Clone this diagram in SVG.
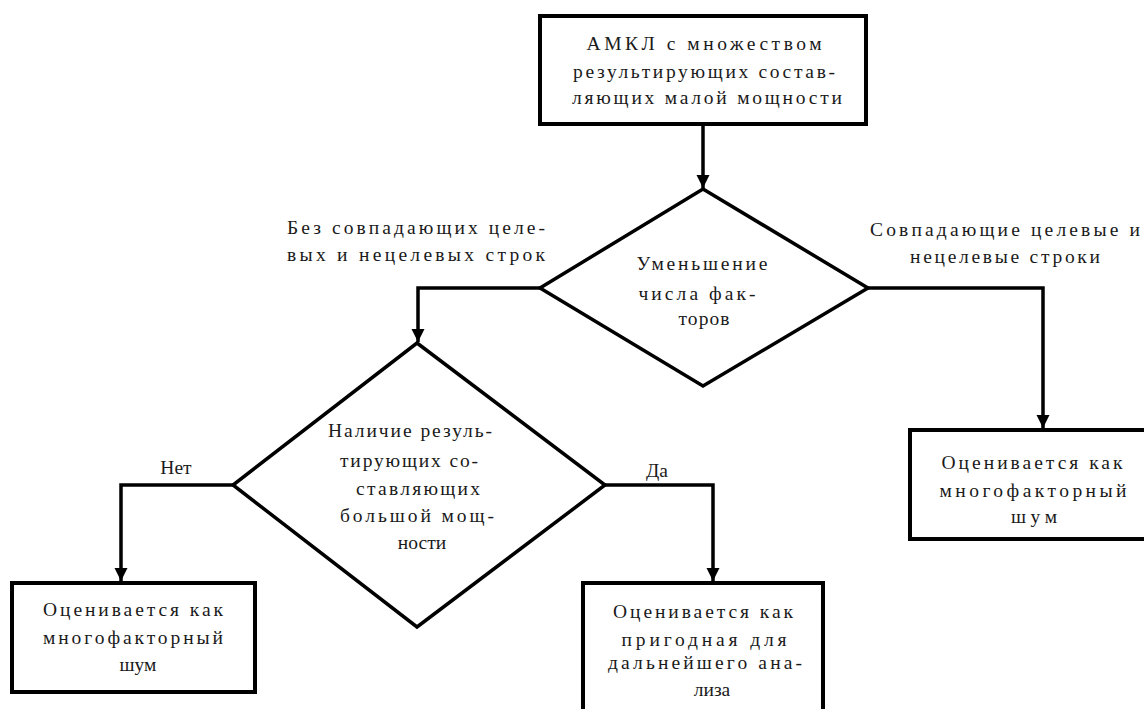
<svg xmlns="http://www.w3.org/2000/svg" width="1144" height="709" viewBox="0 0 1144 709">
<defs>
<style>
.box{fill:#fff;stroke:#000;stroke-width:4}
.dia{fill:#fff;stroke:#000;stroke-width:3.5}
.con{fill:none;stroke:#000;stroke-width:3.5}
.t{font-family:"Liberation Serif","DejaVu Serif",serif;font-size:19.5px;fill:#1a1a1a;text-anchor:middle}
</style>
<marker id="arr" markerUnits="userSpaceOnUse" markerWidth="14" markerHeight="14" viewBox="0 0 14 14" refX="13" refY="7" orient="auto">
<path d="M0,0.5 L13,7 L0,13.5 Z" fill="#000"/>
</marker>
</defs>
<rect width="1144" height="709" fill="#fff"/>
<g id="connectors">
<path class="con" d="M703,125 V188" marker-end="url(#arr)"/>
<path class="con" d="M540,288 H418 V342" marker-end="url(#arr)"/>
<path class="con" d="M868,288 H1043 V428" marker-end="url(#arr)"/>
<path class="con" d="M233,485 H121 V581" marker-end="url(#arr)"/>
<path class="con" d="M605,485 H713 V581" marker-end="url(#arr)"/>
</g>
<g id="n-top">
<rect class="box" x="540" y="16" width="326" height="108"/>
<text class="t" x="704" y="50" textLength="235" lengthAdjust="spacing">АМКЛ с множеством</text>
<text class="t" x="704" y="78" textLength="262" lengthAdjust="spacing">результирующих состав-</text>
<text class="t" x="707" y="104" textLength="270" lengthAdjust="spacing">ляющих малой мощности</text>
</g>
<g id="n-d1">
<polygon class="dia" points="703,189 868,288 703,386 540,288"/>
<text class="t" x="702" y="270" textLength="131" lengthAdjust="spacing">Уменьшение</text>
<text class="t" x="697" y="300" textLength="117" lengthAdjust="spacing">числа фак-</text>
<text class="t" x="704" y="325" textLength="51" lengthAdjust="spacing">торов</text>
</g>
<g id="lbl-left">
<text class="t" x="416" y="234" textLength="258" lengthAdjust="spacing">Без совпадающих целе-</text>
<text class="t" x="416" y="261" textLength="258" lengthAdjust="spacing">вых и нецелевых строк</text>
</g>
<g id="lbl-right">
<text class="t" x="1005" y="236" textLength="270" lengthAdjust="spacing">Совпадающие целевые и</text>
<text class="t" x="1005" y="263" textLength="190" lengthAdjust="spacing">нецелевые строки</text>
</g>
<g id="n-right">
<rect class="box" x="910" y="430" width="250" height="109"/>
<text class="t" x="1032" y="469" textLength="181" lengthAdjust="spacing">Оценивается как</text>
<text class="t" x="1033" y="497" textLength="187" lengthAdjust="spacing">многофакторный</text>
<text class="t" x="1034" y="523" textLength="46" lengthAdjust="spacing">шум</text>
</g>
<g id="n-d2">
<polygon class="dia" points="417,343 605,485 417,627 233,485"/>
<text class="t" x="410" y="437" textLength="164" lengthAdjust="spacing">Наличие резуль-</text>
<text class="t" x="409" y="467" textLength="138" lengthAdjust="spacing">тирующих со-</text>
<text class="t" x="418" y="495" textLength="124" lengthAdjust="spacing">ставляющих</text>
<text class="t" x="417" y="522" textLength="154" lengthAdjust="spacing">большой мощ-</text>
<text class="t" x="422" y="549">ности</text>
</g>
<g id="lbl-no">
<text class="t" x="176" y="474">Нет</text>
</g>
<g id="lbl-yes">
<text class="t" x="657" y="477">Да</text>
</g>
<g id="n-left">
<rect class="box" x="12" y="583" width="243" height="109"/>
<text class="t" x="133" y="616" textLength="180" lengthAdjust="spacing">Оценивается как</text>
<text class="t" x="133" y="644" textLength="180" lengthAdjust="spacing">многофакторный</text>
<text class="t" x="138" y="671">шум</text>
</g>
<g id="n-mid">
<rect class="box" x="583" y="583" width="240" height="140"/>
<text class="t" x="703" y="618" textLength="180" lengthAdjust="spacing">Оценивается как</text>
<text class="t" x="704" y="646" textLength="165" lengthAdjust="spacing">пригодная для</text>
<text class="t" x="705" y="669" textLength="194" lengthAdjust="spacing">дальнейшего ана-</text>
<text class="t" x="712" y="696">лиза</text>
</g>
</svg>
